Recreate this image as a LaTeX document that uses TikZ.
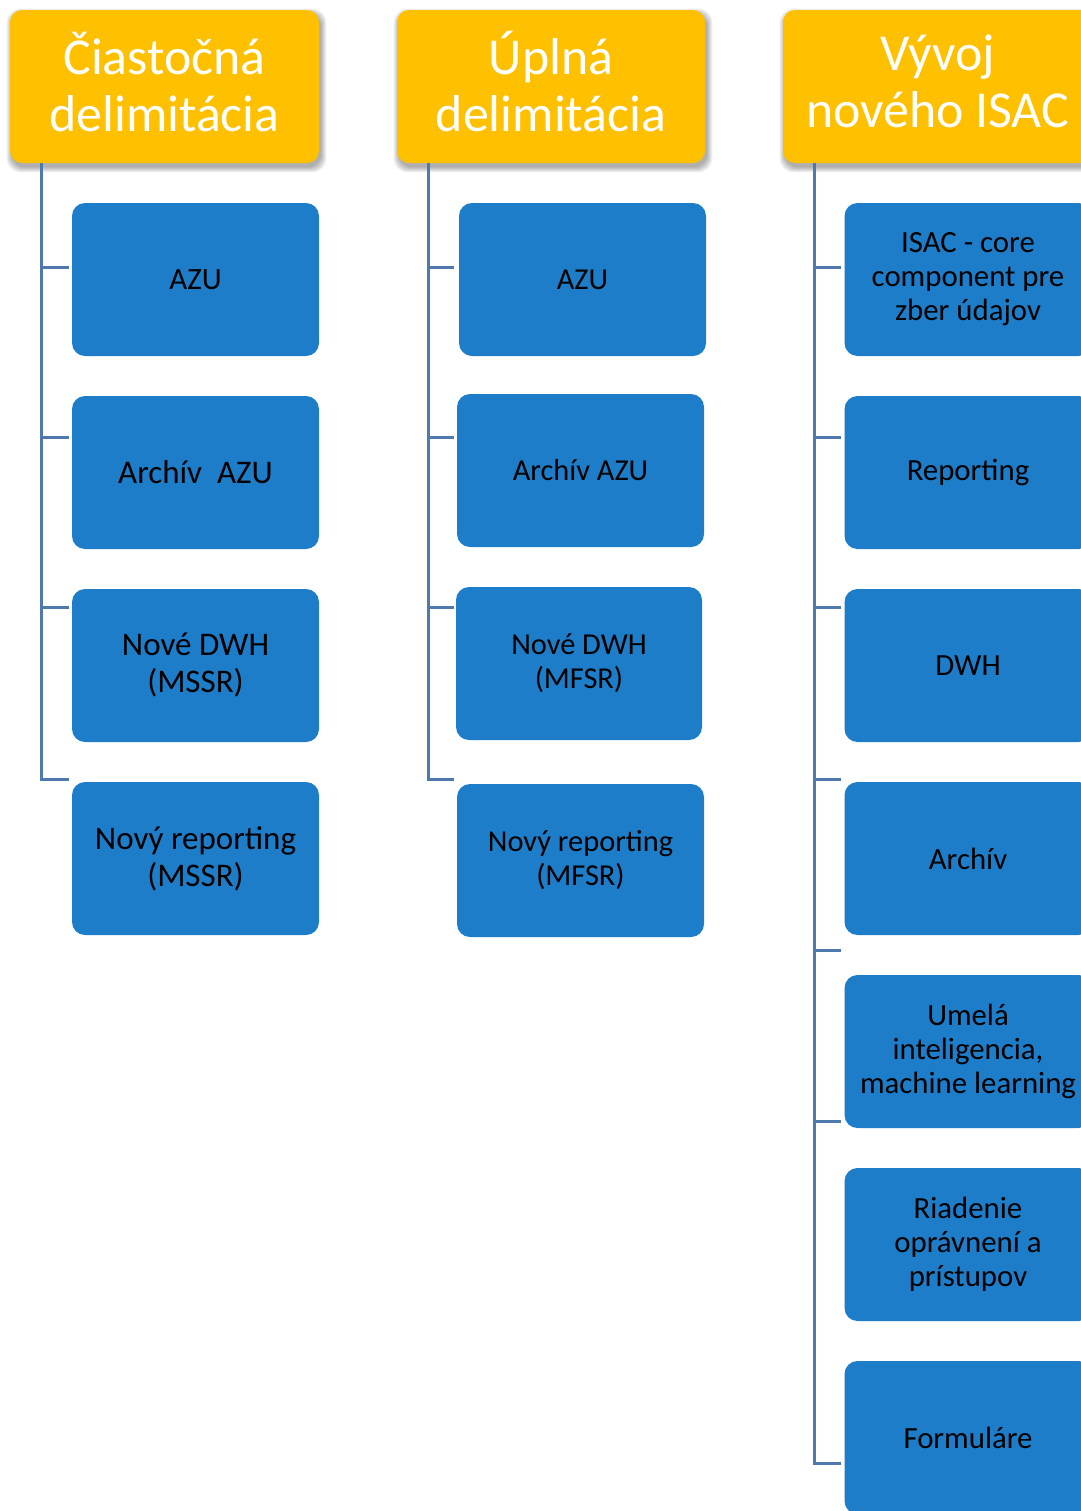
\documentclass[tikz,border=0pt]{standalone}
\usepackage{fontspec}
\setmainfont{Carlito}
\usetikzlibrary{calc}
\pgfdeclarelayer{background}
\pgfsetlayers{background,main}

\definecolor{hdrfill}{RGB}{255,192,0}
\definecolor{boxfill}{RGB}{30,125,200}
\definecolor{linkcol}{RGB}{77,121,172}

\tikzset{
  hdr/.style={fill=hdrfill, rounded corners=6pt, inner sep=0pt,
    minimum width=154.5pt, minimum height=76.5pt},
  hdrtext/.style={text=white, align=center, inner sep=0pt, yshift=2.5pt,
    font=\fontsize{25.9}{28.5}\selectfont},
  item/.style={fill=boxfill, rounded corners=6.5pt, text=black, align=center,
    inner sep=0pt, minimum width=123.5pt, minimum height=76.5pt},
  colA/.style={item, font=\fontsize{16.5}{18.5}\selectfont},
  colB/.style={item, font=\fontsize{15.2}{17}\selectfont},
  colC/.style={item, font=\fontsize{15.4}{17}\selectfont},
  conn/.style={draw=linkcol, line width=1.5pt},
}

\begin{document}
\begin{tikzpicture}[x=0.5pt, y=-0.5pt]
\clip (0,0) rectangle (1081,1511);

% column headers
\node[hdr, label={[hdrtext]center:Čiastočná\\delimitácia}] (h1) at (164.5,86.5) {};
\node[hdr, minimum width=154pt, label={[hdrtext]center:Úplná\\delimitácia}] (h2) at (551,86.5) {};
\node[hdr, label={[hdrtext]center:Vývoj\\nového ISAC}] (h3) at (937.5,86.5) {};

% white page and soft shadows under the headers
\begin{pgfonlayer}{background}
  \fill[white] (0,0) rectangle (1081,1511);
  \foreach \h in {h1,h2,h3}{
    \foreach \k in {0,...,5}{
      \fill[black, opacity=0.06, rounded corners=7pt]
        ($(\h.north west)+(2-\k,4-\k)$) rectangle ($(\h.south east)+(2+\k,4+\k)$);
    }
  }
\end{pgfonlayer}

% first column
\node[colA, font=\fontsize{15.5}{17}\selectfont] (a1) at (195.5,279.5) {AZU};
\node[colA] (a2) at (195.5,472.5) {Archív~~AZU};
\node[colA] (a3) at (195.5,665.5) {Nové DWH\\(MSSR)};
\node[colA] (a4) at (195.5,858.5) {Nový reporting\\(MSSR)};

% second column
\node[colB] (b1) at (582.5,279.5) {AZU};
\node[colB] (b2) at (580.5,470.5) {Archív AZU};
\node[colB, minimum width=123pt] (b3) at (579,663.5) {Nové DWH\\(MFSR)};
\node[colB] (b4) at (580.5,860.5) {Nový reporting\\(MFSR)};

% third column
\node[colC] (c1) at (968,279.5) {ISAC - core\\component pre\\zber údajov};
\node[colC] (c2) at (968,472.5) {Reporting};
\node[colC] (c3) at (968,665.5) {DWH};
\node[colC] (c4) at (968,858.5) {Archív};
\node[colC] (c5) at (968,1051.5) {Umelá\\inteligencia,\\machine learning};
\node[colC] (c6) at (968,1244.5) {Riadenie\\oprávnení a\\prístupov};
\node[colC] (c7) at (968,1437.5) {Formuláre};

% trunk starting points below each header
\coordinate (ta) at (h1.south -| 41,0);
\coordinate (tb) at (h2.south -| 428,0);
\coordinate (tc) at (h3.south -| 814,0);

% branch end points next to the boxes
\coordinate (ea1) at ($(a1.west |- 0,267)+(-3,0)$);
\coordinate (ea2) at ($(a2.west |- 0,437)+(-3,0)$);
\coordinate (ea3) at ($(a3.west |- 0,607)+(-3,0)$);
\coordinate (ea4) at ($(a4.west |- 0,779)+(-3,0)$);

\coordinate (eb1) at (454,267);
\coordinate (eb2) at (454,437);
\coordinate (eb3) at (454,607);
\coordinate (eb4) at (454,779);

\coordinate (ec1) at ($(c1.west |- 0,267)+(-3,0)$);
\coordinate (ec2) at ($(c2.west |- 0,437)+(-3,0)$);
\coordinate (ec3) at ($(c3.west |- 0,607)+(-3,0)$);
\coordinate (ec4) at ($(c4.west |- 0,779)+(-3,0)$);
\coordinate (ec5) at ($(c5.west |- 0,950)+(-3,0)$);
\coordinate (ec6) at ($(c6.west |- 0,1121)+(-3,0)$);
\coordinate (ec7) at ($(c7.west |- 0,1463)+(-3,0)$);

% connectors
\foreach \i in {1,...,4}{
  \draw[conn] (ta) |- (ea\i);
  \draw[conn] (tb) |- (eb\i);
}
\foreach \i in {1,...,7}{
  \draw[conn] (tc) |- (ec\i);
}
\end{tikzpicture}
\end{document}
